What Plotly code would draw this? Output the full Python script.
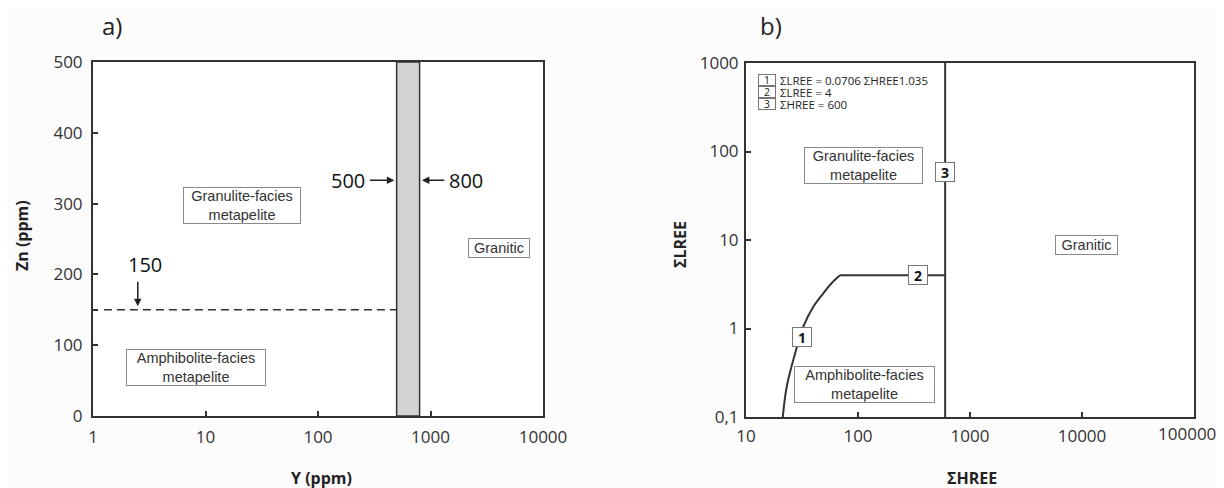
import math
import plotly.graph_objects as go

# page offset: browser body margin of 8 px
OFF = 8
W, H = 1224 - OFF, 488 - OFF

# ---------------- data: panel a ----------------
a_xticks = [1, 10, 100, 1000, 10000]
a_yticks = [0, 100, 150, 200, 300, 400, 500]
a_yticktext = ["0", "100", "", "200", "300", "400", "500"]
band_y_low, band_y_high = 500, 800          # Y (ppm) band limits
band_zn = [0, 500]
zn_threshold = 150
dash_y_start = 1.25

# ---------------- data: panel b ----------------
b_xticks = [10, 100, 1000, 10000, 100000]
b_xticktext = ["10", "100", "1000", "10000", ""]
b_last_xlabel = "100000"
b_yticks = [0.1, 1, 10, 100, 1000]
b_yticktext = ["0,1", "1", "10", "100", "1000"]
curve1_hree = [21.3, 23.1, 27.4, 32.5, 39.9, 49.0, 58.0, 69.0]
curve1_lree = [0.10, 0.22, 0.52, 1.05, 1.76, 2.50, 3.25, 4.0]
line2_hree = [69.0, 600]
line2_lree = [4, 4]
line3_hree = [600, 600]
line3_lree = [0.1, 1000]

FONT = "Open Sans"
LAB = "Liberation Sans"
INK = "#333333"


def px(x):
    return (x - OFF) / W


def py(y):
    return 1 - (y - OFF) / H


fig = go.Figure()

# band
fig.add_trace(go.Scatter(
    x=[band_y_low, band_y_low, band_y_high, band_y_high, band_y_low],
    y=[band_zn[0], band_zn[1], band_zn[1], band_zn[0], band_zn[0]],
    fill="toself", fillcolor="#d3d3d3", mode="lines",
    line=dict(color=INK, width=1.5), xaxis="x", yaxis="y", hoverinfo="skip"))
# dashed threshold
fig.add_trace(go.Scatter(
    x=[dash_y_start, band_y_low], y=[zn_threshold, zn_threshold], mode="lines",
    line=dict(color=INK, width=1.5, dash="8px,5px"), xaxis="x", yaxis="y"))

# panel b lines
for xs, ys in [(curve1_hree, curve1_lree), (line2_hree, line2_lree), (line3_hree, line3_lree)]:
    fig.add_trace(go.Scatter(x=xs, y=ys, mode="lines", line=dict(color=INK, width=2, shape="spline"),
                             xaxis="x2", yaxis="y2"))

axis_common = dict(showline=True, mirror=True, linecolor=INK, linewidth=2,
                   ticks="inside", ticklen=5, tickwidth=1.5, tickcolor=INK,
                   showgrid=False, zeroline=False, automargin=False,
                   tickfont=dict(family=FONT, size=17, color="#333"))

fig.update_layout(
    width=W, height=H, margin=dict(l=0, r=0, t=0, b=0, pad=0),
    paper_bgcolor="#fcfcfc", plot_bgcolor="white", showlegend=False,
    xaxis=dict(domain=[px(93), px(543)], type="log", range=[0, 4], tickvals=a_xticks,
               ticktext=[str(v) for v in a_xticks], anchor="y", ticklabelstandoff=5, **axis_common),
    yaxis=dict(domain=[py(416), py(62)], range=[0, 500], tickvals=a_yticks, ticktext=a_yticktext,
               anchor="x", ticklabelstandoff=5, **axis_common),
    xaxis2=dict(domain=[px(746), px(1194)], type="log", range=[1, 5], tickvals=b_xticks,
                ticktext=b_xticktext, anchor="y2", ticklabelstandoff=3, **axis_common),
    yaxis2=dict(domain=[py(417), py(63)], type="log", range=[-1, 3], tickvals=b_yticks,
                ticktext=b_yticktext, anchor="x2", ticklabelstandoff=2, **axis_common),
)

ann = []
C = dict(xanchor="center", yanchor="middle", showarrow=False)

# last tick label of panel b, pulled in from the page edge as in the original
ann.append(dict(text=b_last_xlabel, x=px(1187), y=py(433), xref="paper", yref="paper",
                font=dict(family=FONT, size=17, color="#333"), **C))

# titles
ann.append(dict(text="a)", x=px(112), y=py(26), xref="paper", yref="paper",
                font=dict(family=FONT, size=24, color="#222"), **C))
ann.append(dict(text="b)", x=px(771), y=py(26), xref="paper", yref="paper",
                font=dict(family=FONT, size=24, color="#222"), **C))
# axis titles
ann.append(dict(text="<b>Y (ppm)</b>", x=px(321), y=py(478), xref="paper", yref="paper",
                font=dict(family=FONT, size=16, color="#222"), **C))
ann.append(dict(text="<b>Zn (ppm)</b>", x=px(22), y=py(236), xref="paper", yref="paper", textangle=-90,
                font=dict(family=FONT, size=16, color="#222"), **C))
ann.append(dict(text="<b>ΣHREE</b>", x=px(972), y=py(478), xref="paper", yref="paper",
                font=dict(family=FONT, size=16, color="#222"), **C))
ann.append(dict(text="<b>ΣLREE</b>", x=px(680), y=py(245), xref="paper", yref="paper", textangle=-90,
                font=dict(family=FONT, size=16, color="#222"), **C))

box = dict(bordercolor="#8a8a8a", borderwidth=1, bgcolor="white", borderpad=0,
           xanchor="center", yanchor="middle", showarrow=False)
lab_font = dict(family=LAB, size=14.5, color="#333")

# panel a region labels
ann.append(dict(text="Granulite-facies<br>metapelite", x=math.log10(21), y=297, xref="x", yref="y",
                font=lab_font, width=116, **box))
ann.append(dict(text="Amphibolite-facies<br>metapelite", x=math.log10(8.2), y=69, xref="x", yref="y",
                font=lab_font, width=138, **box))
ann.append(dict(text="Granitic", x=math.log10(4064), y=237, xref="x", yref="y", font=lab_font,
                width=60, height=18, **box))

# panel a arrows
arrow = dict(showarrow=True, arrowhead=2, arrowsize=1, arrowwidth=1.5, arrowcolor="#222", text="")
ann.append(dict(x=math.log10(2.5), y=155, xref="x", yref="y", ax=0, ay=-26, **arrow))
ann.append(dict(text="150", x=math.log10(2.5) + 0.06, y=192, xref="x", yref="y", yanchor="bottom",
                showarrow=False, font=dict(family=FONT, size=20, color="#111")))
ann.append(dict(x=math.log10(band_y_low) - 0.02, y=333, xref="x", yref="y", ax=-26, ay=0, **arrow))
ann.append(dict(text="500", x=math.log10(band_y_low) - 0.26, y=333, xref="x", yref="y", xanchor="right",
                yanchor="middle", showarrow=False, font=dict(family=FONT, size=20, color="#111")))
ann.append(dict(x=math.log10(band_y_high) + 0.02, y=333, xref="x", yref="y", ax=24, ay=0, **arrow))
ann.append(dict(text="800", x=math.log10(band_y_high) + 0.24, y=333, xref="x", yref="y", xanchor="left",
                yanchor="middle", showarrow=False, font=dict(family=FONT, size=20, color="#111")))

# panel b region labels
ann.append(dict(text="Granulite-facies<br>metapelite", x=math.log10(112), y=math.log10(69.5),
                xref="x2", yref="y2", font=lab_font, width=117, **box))
ann.append(dict(text="Amphibolite-facies<br>metapelite", x=math.log10(114), y=math.log10(0.23),
                xref="x2", yref="y2", font=lab_font, width=139, **box))
ann.append(dict(text="Granitic", x=math.log10(10970), y=math.log10(8.8), xref="x2", yref="y2",
                font=lab_font, width=61, height=18, **box))

# numbered markers on lines
num_font = dict(family=FONT, size=14, color="#111")
num_box = dict(bordercolor="#777", borderwidth=1, bgcolor="white", borderpad=0, showarrow=False,
               xanchor="center", yanchor="middle", width=18, height=18)
ann.append(dict(text="<b>1</b>", x=math.log10(31.4), y=math.log10(0.81), xref="x2", yref="y2",
                font=num_font, **num_box))
ann.append(dict(text="<b>2</b>", x=math.log10(340), y=math.log10(4), xref="x2", yref="y2",
                font=num_font, **num_box))
ann.append(dict(text="<b>3</b>", x=math.log10(600), y=math.log10(58), xref="x2", yref="y2",
                font=num_font, **num_box))

# legend in panel b
leg_items = [("1", "ΣLREE = 0.0706 ΣHREE1.035"), ("2", "ΣLREE = 4"), ("3", "ΣHREE = 600")]
for i, (n, t) in enumerate(leg_items):
    yy = 80 + i * 12.2
    ann.append(dict(text=n, x=px(766.5), y=py(yy), xref="paper", yref="paper",
                    font=dict(family=FONT, size=10.5, color="#222"),
                    bordercolor="#777", borderwidth=1, bgcolor="white", borderpad=0, width=16, height=10,
                    xanchor="center", yanchor="middle", showarrow=False))
    ann.append(dict(text=t, x=px(778), y=py(yy), xref="paper", yref="paper", xanchor="left",
                    yanchor="middle", font=dict(family=FONT, size=11.5, color="#222"), showarrow=False))

fig.update_layout(annotations=ann)
fig.write_html("out.html")
